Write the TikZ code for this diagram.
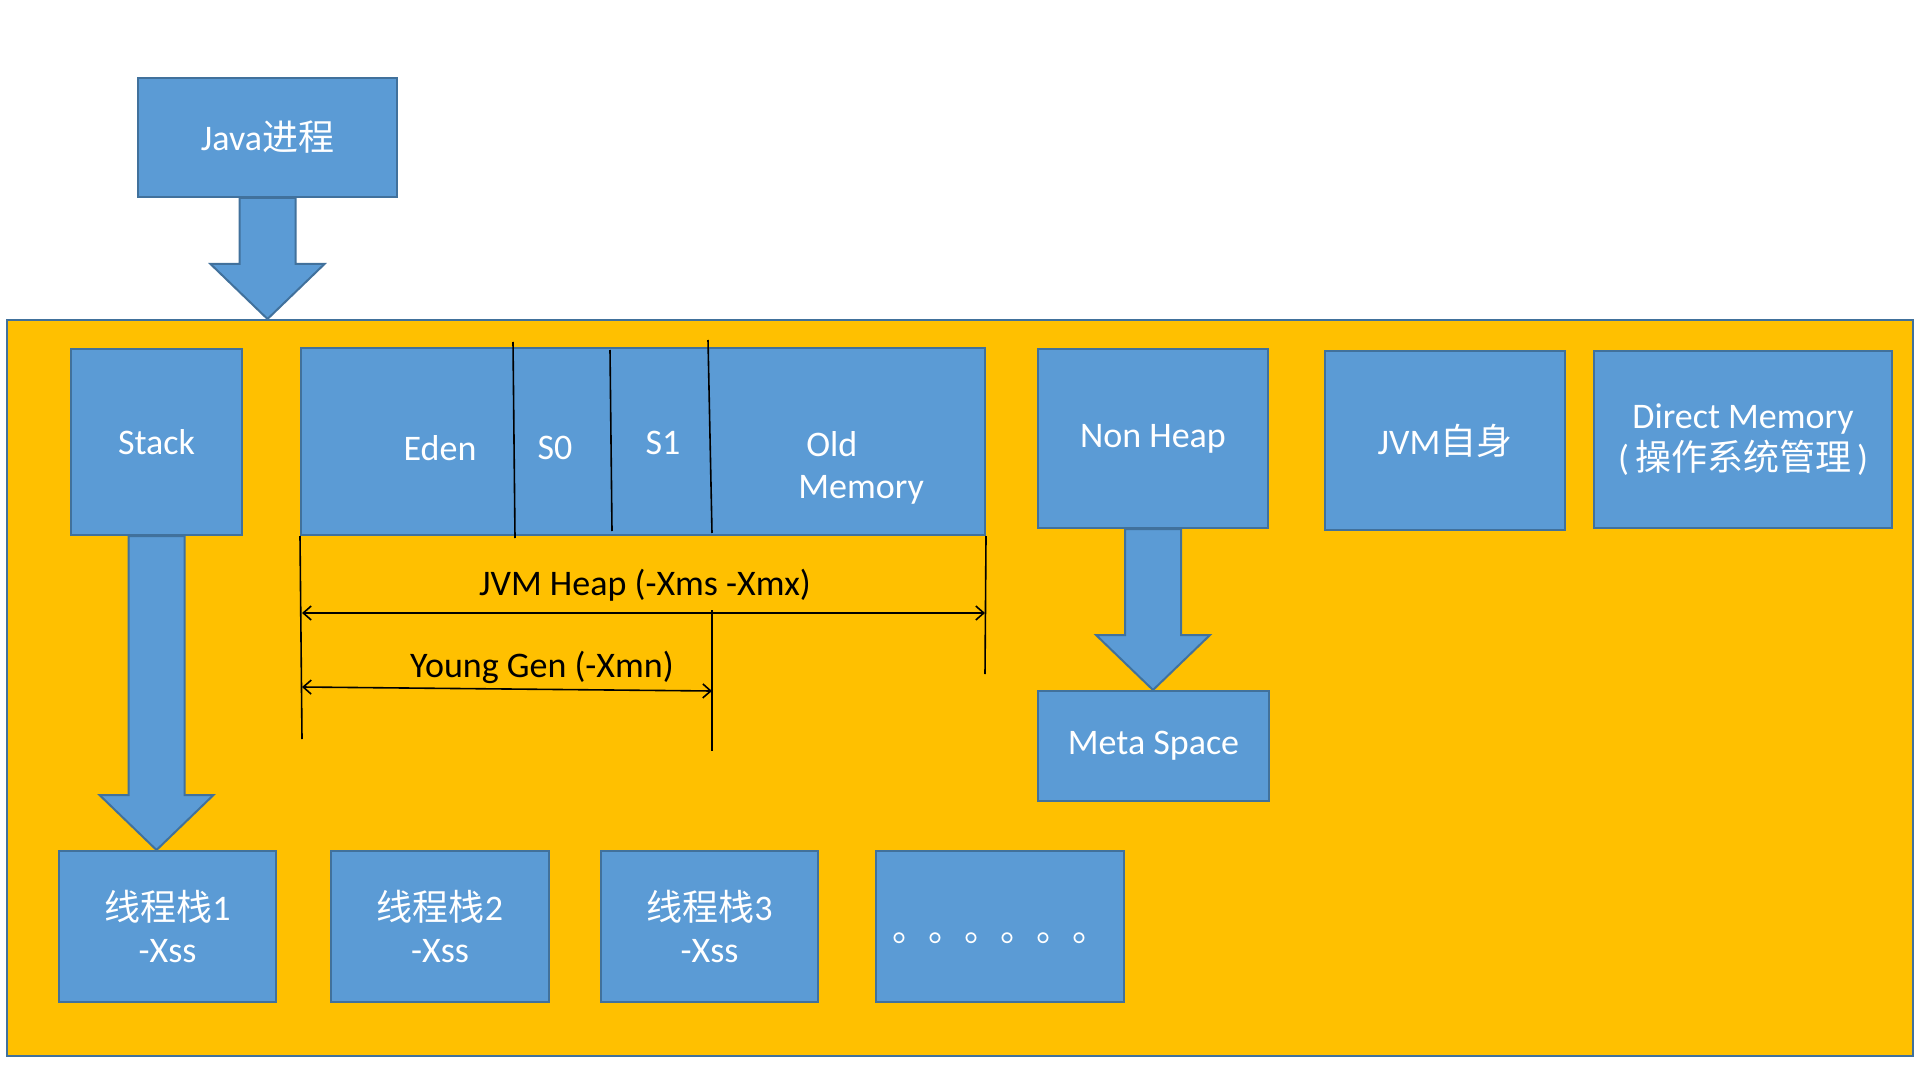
\documentclass[tikz,border=0pt]{standalone}
\usepackage{fontspec}
\setmainfont{Carlito}
\newfontfamily\cjk{Noto Sans CJK SC}
\usetikzlibrary{calc,arrows.meta}

\definecolor{boxblue}{HTML}{5B9BD5}
\definecolor{boxline}{HTML}{41719C}
\definecolor{jvmorange}{HTML}{FFC000}

% fat block arrow: #1 start, #2 tip
\newcommand{\blockarrow}[2]{%
  \draw[fatarrow] ($(#1)+(-28,0)$) -- ($(#1)+(28,0)$) -- ($(#2)+(28,-55)$)
    -- ($(#2)+(57,-55)$) -- (#2) -- ($(#2)+(-57,-55)$) -- ($(#2)+(-28,-55)$) -- cycle;}

\begin{document}
\begin{tikzpicture}
  [x=0.5pt, y=-0.5pt,
  box/.style={draw=boxline, fill=boxblue, line width=1pt, text=white,
    font=\fontsize{18}{21}\selectfont, align=center, inner sep=0pt},
  heaptext/.style={text=white, font=\fontsize{18}{21}\selectfont, inner sep=0pt},
  dimtext/.style={text=black, font=\fontsize{18}{22}\selectfont, inner sep=0pt},
  fatarrow/.style={draw=boxline, fill=boxblue, line width=1pt, line join=miter},
  dim/.style={line width=0.8pt, black},
  >={Straight Barb[length=4pt,width=7pt]}]

  \fill[white] (0,0) rectangle (1920,1080);
  \useasboundingbox (0,0) rectangle (1920,1080);

  % process and JVM frame
  \node[box, minimum width=129.5pt, minimum height=59.5pt] (java) at (267.5,137.5) {Java{\cjk 进程}};
  \node[box, fill=jvmorange, minimum width=953pt, minimum height=368pt] (jvm) at (960,688) {};
  \coordinate (javatip) at (java.south |- jvm.north);
  \blockarrow{java.south}{javatip}

  % top row
  \node[box, minimum width=85.5pt, minimum height=93pt] (stack) at (156.5,442) {Stack};
  \node[box, minimum width=342pt, minimum height=93.5pt] (heap) at (643,441.5) {};
  \node[box, minimum width=115pt, minimum height=89.5pt] (nonheap) at (1153,438.5) {Non Heap};
  \node[box, minimum width=120pt, minimum height=89.5pt] (jvmself) at (1445,440.5) {JVM{\cjk 自身}};
  \node[box, minimum width=149pt, minimum height=88.5pt] (direct) at (1743,439.5)
    {Direct Memory\\(\,{\cjk 操作系统管理}\,)};

  % heap parts
  \draw[dim] (513,342) -- (515,538);
  \draw[dim] (610,350) -- (612,531);
  \draw[dim] (708,340) -- (712,533);
  \node[heaptext] (eden) at (440,448) {Eden};
  \node[heaptext] (s0) at (555,448) {S0};
  \node[heaptext] (s1) at (663,443) {S1};
  \node[heaptext, anchor=west, align=left] (old) at (798,468) {\hspace*{4pt}Old\\Memory};

  % heap sizes
  \coordinate (hl) at (302,613);
  \coordinate (hr) at (985,613);
  \coordinate (yl) at (302,687);
  \coordinate (yr) at (712,691);
  \draw[dim] (heap.south west) -- (302,739);
  \draw[dim] (heap.south east) -- (985,674);
  \draw[dim] (712,610) -- (712,751);
  \draw[dim, <->] (hl) -- (hr);
  \draw[dim, <->] (yl) -- (yr);
  \node[dimtext] (heaplabel) at (645,585) {JVM Heap (-Xms -Xmx)};
  \node[dimtext] (younglabel) at (542,667) {Young Gen (-Xmn)};

  % meta space
  \node[box, minimum width=115.5pt, minimum height=55pt] (meta) at (1153.5,746) {Meta Space};
  \coordinate (metatip) at (nonheap.south |- meta.north);
  \blockarrow{nonheap.south}{metatip}

  % thread stacks
  \node[box, minimum width=108.5pt, minimum height=75.5pt] (t1) at (167.5,926.5) {{\cjk 线程栈}1\\-Xss};
  \node[box, minimum width=109pt, minimum height=75.5pt] (t2) at (440,926.5) {{\cjk 线程栈}2\\-Xss};
  \node[box, minimum width=108.5pt, minimum height=75.5pt] (t3) at (709.5,926.5) {{\cjk 线程栈}3\\-Xss};
  \node[box, minimum width=124pt, minimum height=75.5pt] (t4) at (1000,926.5) {\strut\raisebox{-3.5pt}{\cjk 。。。。。。}};
  \coordinate (stacktip) at (stack.south |- t1.north);
  \blockarrow{stack.south}{stacktip}
\end{tikzpicture}
\end{document}
